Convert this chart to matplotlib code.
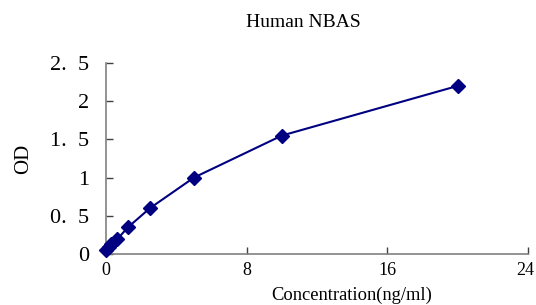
import matplotlib
matplotlib.use("Agg")
import matplotlib.pyplot as plt
import matplotlib.transforms as mtransforms

# Standard curve data
conc = [0, 0.156, 0.312, 0.625, 1.25, 2.5, 5, 10, 20]
od = [0.05, 0.09, 0.13, 0.19, 0.35, 0.60, 1.00, 1.55, 2.20]

x_ticks = [0, 8, 16, 24]
y_ticks = [0, 0.5, 1, 1.5, 2, 2.5]
y_tick_labels = ["0", "0.  5", "1", "1.  5", "2", "2.  5"]

plt.rcParams["font.family"] = ["Liberation Serif", "DejaVu Serif"]

fig = plt.figure(figsize=(5.36, 3.05), dpi=100)
ax = fig.add_axes([106 / 536, 1 - 254 / 305, 422 / 536, 191 / 305])

navy = "#000080"
ax.plot(conc, od, color=navy, linewidth=1.5, marker="D", markersize=7,
        markerfacecolor=navy, markeredgecolor=navy, clip_on=False, zorder=3)

ax.set_xlim(0, 24)
ax.set_ylim(0, 2.5)
ax.set_xticks(x_ticks)
ax.set_yticks(y_ticks)
ax.set_yticklabels(y_tick_labels)

for side in ["top", "right"]:
    ax.spines[side].set_visible(False)
for side in ["left", "bottom"]:
    ax.spines[side].set_color("#808080")
    ax.spines[side].set_linewidth(1.2)

ax.tick_params(axis="both", direction="in", length=5, width=1, color="#404040")
ax.tick_params(axis="y", labelsize=16, pad=12)
ax.tick_params(axis="x", labelsize=13, pad=6)

# keep the last x tick label inside the figure edge
last = ax.get_xticklabels()[-1]
last.set_transform(last.get_transform() + mtransforms.ScaledTranslation(-3 / 100, 0, fig.dpi_scale_trans))

ax.set_title("Human NBAS", fontsize=14, x=0.468, pad=26)
ax.set_xlabel("Concentration(ng/ml)", fontsize=13.3)
ax.xaxis.set_label_coords(0.582, -0.17)
ax.set_ylabel("OD", fontsize=15, labelpad=12)

fig.savefig("out.png", dpi=100)
